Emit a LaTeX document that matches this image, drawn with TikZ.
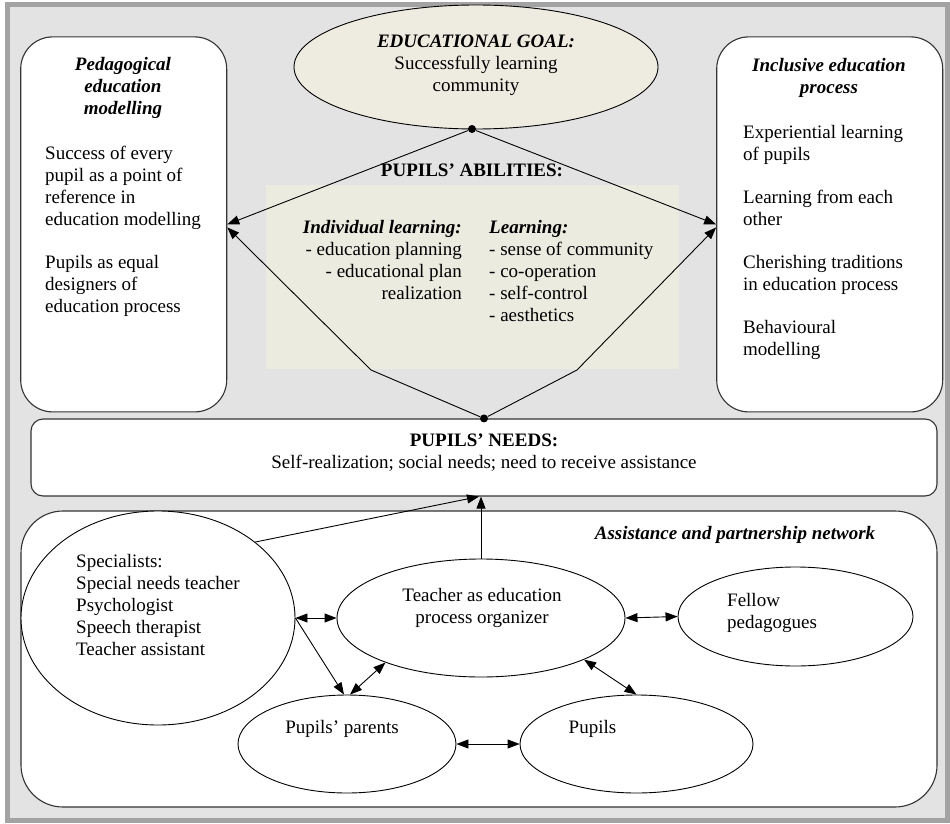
\documentclass[tikz,border=0pt]{standalone}
\usepackage{fontspec}
\setmainfont{Liberation Serif}
\usetikzlibrary{shapes.geometric,arrows.meta}
\definecolor{frameGray}{HTML}{A3A3A3}
\definecolor{backGray}{HTML}{E3E3E3}
\definecolor{goalBeige}{HTML}{EEEBE0}
\definecolor{abilBeige}{HTML}{ECEBE0}
\definecolor{lineGray}{HTML}{333333}

\begin{document}
\begin{tikzpicture}
		[x=1pt,y=-1pt,
		every node/.style={font=\fontsize{19}{22}\selectfont,inner sep=0pt},
		RoundBox/.style={rectangle,draw=lineGray,fill=white,line width=1.1pt},
		Oval/.style={ellipse,draw=black,fill=white,line width=0.9pt},
		Dot/.style={circle,fill=black,minimum size=8pt},
		Arrow/.style={black,line width=0.9pt,>={Triangle[length=12pt,width=9pt]}},
		HeadTxt/.style={font=\fontsize{19}{22}\selectfont\bfseries\itshape,align=center}]
		
		% 外框
		\useasboundingbox (0,0) rectangle (950,824);
		\draw[frameGray,line width=5pt,fill=backGray] (7.5,4.5) rectangle (947.5,820.5);
		
		% 能力区域
		\node[fill=abilBeige,minimum width=413pt,minimum height=184pt] (abilbox) at (472.5,277) {};
		
		% 三个圆角框
		\node[RoundBox,rounded corners=32pt,minimum width=206pt,minimum height=375pt] (pedbox) at (123.7,224.4) {};
		\node[RoundBox,rounded corners=32pt,minimum width=226pt,minimum height=375pt] (incbox) at (829.7,224.4) {};
		\node[RoundBox,rounded corners=12pt,minimum width=906pt,minimum height=77pt] (needs) at (484,457.5) {};
		\node[RoundBox,rounded corners=42pt,minimum width=916pt,minimum height=296pt] (netbox) at (479,659) {};
		
		% 目标椭圆
		\node[Oval,fill=goalBeige,minimum width=364pt,minimum height=124pt] (goal) at (476,67) {};
		
		% 网络中的椭圆
		\foreach \n/\x/\y/\w/\h in {spec/158/618/274/214, teacher/481/618/288/118,
			fellow/795.5/616.5/235/99, parents/347/744/218/98, pupils/636.5/744/233/98}
		\node[Oval,minimum width=\w pt,minimum height=\h pt] (\n) at (\x,\y) {};
		
		% 连接点
		\node[Dot] (gdot) at (472,129) {};
		\node[Dot] (ndot) at (needs.north) {};
		\coordinate (bendL) at (371,370);
		\coordinate (bendR) at (577,370);
		
		% 能力的箭头
		\draw[Arrow,->] (gdot) -- (pedbox.east);
		\draw[Arrow,->] (gdot) -- (incbox.west);
		\draw[Arrow,->] (ndot) -- (bendL) -- ([yshift=-3pt]pedbox.east);
		\draw[Arrow,->] (ndot) -- (bendR) -- ([yshift=-3pt]incbox.west);
		
		% 网络中的箭头
		\foreach \a/\b in {spec.east/teacher.west, teacher.east/fellow.west,
			parents.east/pupils.west, teacher.-22/pupils.north}
		\draw[Arrow,<->] (\a) -- (\b);
		\draw[Arrow,<->] (teacher.205) -- ([xshift=3pt]parents.north);
		\draw[Arrow,->] (spec.east) -- ([xshift=-3pt]parents.north);
		\draw[Arrow,->] (spec.38) -- ([xshift=-5pt]needs.south);
		\draw[Arrow,->] (teacher.north) -- (teacher.north |- needs.south);
		
		% 文字
		\node[align=center] (goaltxt) at (476,65) {\textbf{\textit{EDUCATIONAL GOAL:}}\\Successfully learning\\community};
		\node[HeadTxt] (pedhead) at (123,88) {Pedagogical\\education\\modelling};
		\node[align=left,anchor=west] (pedtxt) at (45,231) {Success of every\\pupil as a point of\\reference in\\education modelling\\[21pt]Pupils as equal\\designers of\\education process};
		\node[HeadTxt] (inchead) at (829,78) {Inclusive education\\process};
		\node[align=left,anchor=west] (inctxt) at (743,242.5) {Experiential learning\\of pupils\\[21pt]Learning from each\\other\\[21pt]Cherishing traditions\\in education process\\[21pt]Behavioural\\modelling};
		\node[font=\fontsize{19}{22}\selectfont\bfseries] (abilhead) at (472,170) {PUPILS’ ABILITIES:};
		\node[align=right,anchor=east] (indtxt) at (462,259.5) {\textbf{\textit{Individual learning:}}\\- education planning\\- educational plan\\realization};
		\node[align=left,anchor=west] (learntxt) at (489,270.5) {\textbf{\textit{Learning:}}\\- sense of community\\- co-operation\\- self-control\\- aesthetics};
		\node[align=center] (needtxt) at (484,452.5) {\textbf{PUPILS’ NEEDS:}\\Self-realization; social needs; need to receive assistance};
		\node[HeadTxt] (nethead) at (735,535) {Assistance and partnership network};
		\node[align=left,anchor=west] (spectxt) at (76,605) {Specialists:\\Special needs teacher\\Psychologist\\Speech therapist\\Teacher assistant};
		\node[align=center] (teachtxt) at (482,607.5) {Teacher as education\\process organizer};
		\node[align=left,anchor=west] (felltxt) at (727,613) {Fellow\\pedagogues};
		\node (partxt) at (342,729) {Pupils’ parents};
		\node (puptxt) at (592.5,729) {Pupils};
		
	\end{tikzpicture}
\end{document}
